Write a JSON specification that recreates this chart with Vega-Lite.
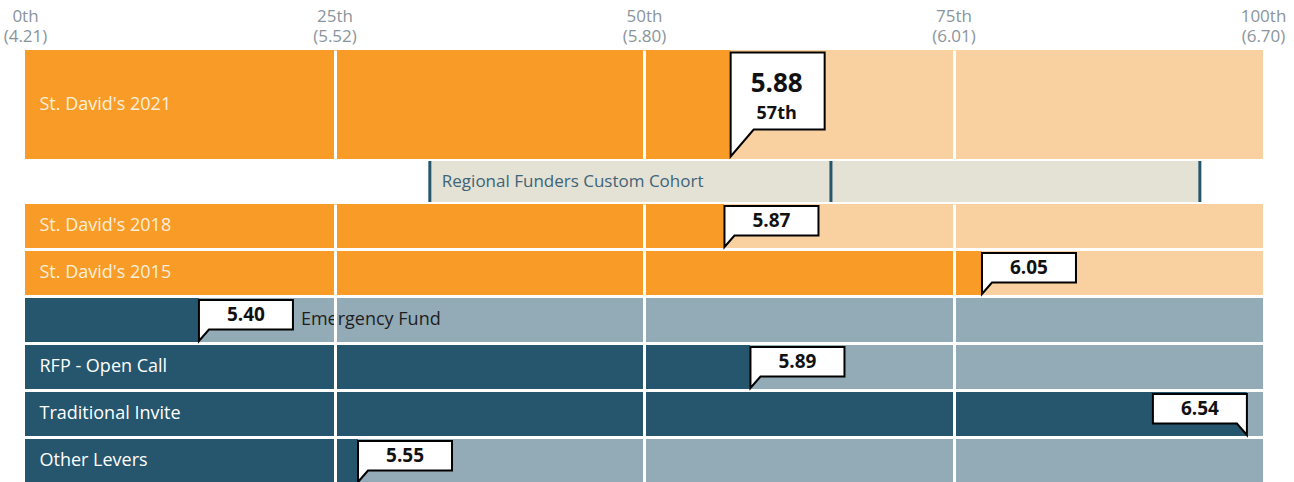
{
  "$schema": "https://vega.github.io/schema/vega-lite/v6.json",
  "bounds": "flush",
  "spacing": 2,
  "padding": {"left": 3, "top": 7, "right": 0, "bottom": 0},
  "config": {"view": {"stroke": null}, "font": "Open Sans", "text": {"font": "Open Sans", "baseline": "middle"}},
  "datasets": {
    "rows": [
      {"name": "St. David's 2021", "group": "current", "type": "St. David's", "value": 57, "score": "5.88", "rank": "57th"},
      {"name": "St. David's 2018", "group": "other", "type": "St. David's", "value": 56.5, "score": "5.87"},
      {"name": "St. David's 2015", "group": "other", "type": "St. David's", "value": 77.3, "score": "6.05"},
      {"name": "Emergency Fund", "group": "other", "type": "Funding approach", "value": 14.05, "score": "5.40"},
      {"name": "RFP - Open Call", "group": "other", "type": "Funding approach", "value": 58.6, "score": "5.89"},
      {"name": "Traditional Invite", "group": "other", "type": "Funding approach", "value": 98.7, "score": "6.54"},
      {"name": "Other Levers", "group": "other", "type": "Funding approach", "value": 26.9, "score": "5.55"}
    ],
    "cohort": [
      {"name": "Regional Funders Custom Cohort", "low": 32.7, "mid": 65.1, "high": 94.9}
    ]
  },
  "vconcat": [
    {
      "width": 1238,
      "height": 109,
      "data": {"name": "rows"},
      "transform": [{"filter": "datum.group == 'current'"}],
      "encoding": {
        "y": {"field": "name", "type": "nominal", "sort": null, "scale": {"paddingInner": 0, "paddingOuter": 0},
          "axis": {"orient": "left", "title": null, "domain": false, "ticks": false, "tickSize": 0, "labelAlign": "left", "labelPadding": -14,
            "labelFont": "Open Sans", "labelFontSize": 18, "labelColor": "#fdefdc", "zindex": 1, "labelLimit": 0}},
        "x": {"field": "value", "type": "quantitative", "stack": null, "scale": {"domain": [0, 100], "nice": false, "zero": true},
          "axis": {"orient": "top", "values": [0, 25, 50, 75, 100], "title": null, "domain": false, "ticks": false, "tickSize": 0,
            "grid": true, "gridColor": "white", "gridWidth": 3,
            "gridOpacity": {"condition": {"test": "datum.value == 0 || datum.value == 100", "value": 0}, "value": 1},
            "labelFlush": false, "labelOverlap": false, "labelBound": false, "labelFont": "Open Sans", "labelFontSize": 17,
            "labelColor": "#8a949c", "labelLineHeight": 20, "labelPadding": 25, "zindex": 1,
            "labelExpr": "[datum.value + 'th', datum.value == 0 ? '(4.21)' : datum.value == 25 ? '(5.52)' : datum.value == 50 ? '(5.80)' : datum.value == 75 ? '(6.01)' : '(6.70)']"}}
      },
      "layer": [
        {"mark": {"type": "bar", "orient": "horizontal", "color": "#f89c27"}},
        {"mark": {"type": "rect", "color": "#f9d09f"}, "encoding": {"x2": {"value": "width"}}},
        {"mark": {"type": "point", "shape": "M0,-52 L94,-52 L94,25 L23,25 L0,52 Z", "size": 4, "filled": true, "fill": "white", "stroke": "black", "strokeWidth": 2, "opacity": 1, "fillOpacity": 1, "strokeOpacity": 1}},
        {"mark": {"type": "text", "align": "center", "dx": 46, "dy": -21, "fontSize": 26, "fontWeight": "bold", "color": "#111111"},
         "encoding": {"text": {"field": "score", "type": "nominal"}}},
        {"mark": {"type": "text", "align": "center", "dx": 46, "dy": 9, "fontSize": 18, "fontWeight": "bold", "color": "#111111"},
         "encoding": {"text": {"field": "rank", "type": "nominal"}}}
      ]
    },
    {
      "width": 1238,
      "height": 41,
      "data": {"name": "cohort"},
      "encoding": {"y": {"field": "name", "type": "nominal", "scale": {"paddingInner": 0, "paddingOuter": 0}, "axis": null}},
      "layer": [
        {"mark": {"type": "rect", "color": "#e4e1d5"},
         "encoding": {"x": {"field": "low", "type": "quantitative", "scale": {"domain": [0, 100], "nice": false, "zero": true}, "axis": null}, "x2": {"field": "high"}}},
        {"mark": {"type": "tick", "color": "#25566e", "thickness": 3, "size": 41, "opacity": 1},
         "encoding": {"x": {"field": "low", "type": "quantitative", "axis": null}}},
        {"mark": {"type": "tick", "color": "#25566e", "thickness": 3, "size": 41, "opacity": 1},
         "encoding": {"x": {"field": "mid", "type": "quantitative", "axis": null}}},
        {"mark": {"type": "tick", "color": "#25566e", "thickness": 3, "size": 41, "opacity": 1},
         "encoding": {"x": {"field": "high", "type": "quantitative", "axis": null}}},
        {"mark": {"type": "text", "align": "left", "dx": 12, "fontSize": 17, "color": "#3e6478"},
         "encoding": {"x": {"field": "low", "type": "quantitative", "axis": null}, "text": {"field": "name", "type": "nominal"}}}
      ]
    },
    {
      "width": 1238,
      "height": 279,
      "data": {"name": "rows"},
      "transform": [{"filter": "datum.group == 'other'"}],
      "encoding": {
        "y": {"field": "name", "type": "nominal", "sort": null, "scale": {"paddingInner": 0.0638, "paddingOuter": 0},
          "axis": {"orient": "left", "title": null, "domain": false, "ticks": false, "tickSize": 0, "labelAlign": "left", "labelPadding": -14,
            "labelFont": "Open Sans", "labelFontSize": 18, "zindex": 1, "labelLimit": 0,
            "labelColor": {"condition": {"test": "indexof(datum.value, 'St. David') >= 0", "value": "#fdefdc"}, "value": "#ffffff"},
            "labelExpr": "datum.value == 'Emergency Fund' ? '' : datum.value"}},
        "x": {"field": "value", "type": "quantitative", "stack": null, "scale": {"domain": [0, 100], "nice": false, "zero": true},
          "axis": {"orient": "top", "values": [25, 50, 75], "title": null, "domain": false, "ticks": false, "tickSize": 0, "labels": false,
            "grid": true, "gridColor": "white", "gridWidth": 3, "zindex": 1}}
      },
      "layer": [
        {"mark": {"type": "bar", "orient": "horizontal"},
         "encoding": {"color": {"condition": {"test": "datum.type == 'Funding approach'", "value": "#25566e"}, "value": "#f89c27"}}},
        {"mark": {"type": "rect"},
         "encoding": {"x2": {"value": "width"},
           "color": {"condition": {"test": "datum.type == 'Funding approach'", "value": "#93aab7"}, "value": "#f9d09f"}}},
        {"transform": [{"filter": "datum.name == 'Emergency Fund'"}],
         "mark": {"type": "text", "align": "left", "dx": 102, "fontSize": 18, "color": "#1e1e1e"},
         "encoding": {"text": {"field": "name", "type": "nominal"}}},
        {"transform": [{"filter": "datum.value <= 90"}],
         "mark": {"type": "point", "shape": "M0,-20 L94,-20 L94,9.5 L10,9.5 L0,21 Z", "size": 4, "filled": true, "fill": "white", "stroke": "black", "strokeWidth": 2, "opacity": 1, "fillOpacity": 1, "strokeOpacity": 1}},
        {"transform": [{"filter": "datum.value > 90"}],
         "mark": {"type": "point", "shape": "M0,-20 L-94,-20 L-94,9.5 L-10,9.5 L0,21 Z", "size": 4, "filled": true, "fill": "white", "stroke": "black", "strokeWidth": 2, "opacity": 1, "fillOpacity": 1, "strokeOpacity": 1}},
        {"transform": [{"filter": "datum.value <= 90"}],
         "mark": {"type": "text", "align": "center", "dx": 47, "dy": -5, "fontSize": 19, "fontWeight": "bold", "color": "#111111"},
         "encoding": {"text": {"field": "score", "type": "nominal"}}},
        {"transform": [{"filter": "datum.value > 90"}],
         "mark": {"type": "text", "align": "center", "dx": -47, "dy": -5, "fontSize": 19, "fontWeight": "bold", "color": "#111111"},
         "encoding": {"text": {"field": "score", "type": "nominal"}}}
      ]
    }
  ]
}
